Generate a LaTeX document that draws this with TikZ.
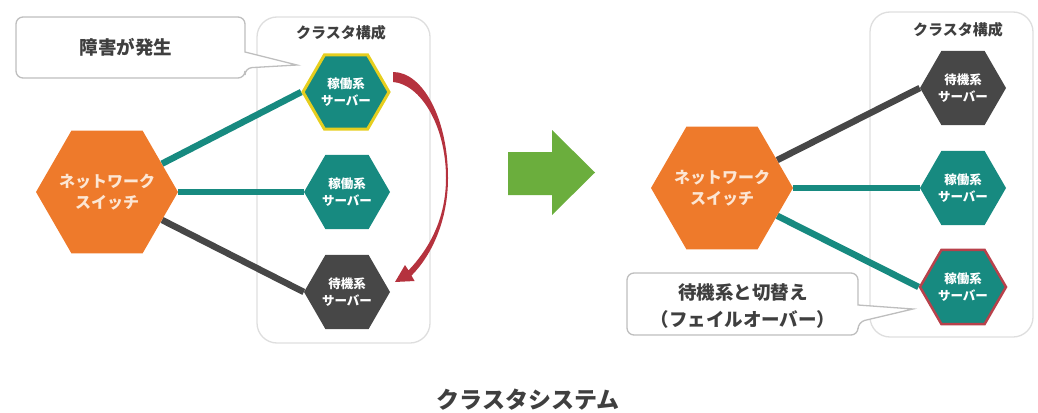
\documentclass[tikz,border=0pt]{standalone}
\usepackage{fontspec}
\setmainfont{Noto Sans CJK JP}
\usetikzlibrary{shapes.geometric,backgrounds}
\definecolor{orng}{HTML}{EE7A2B}
\definecolor{tealc}{HTML}{178A80}
\definecolor{darkc}{HTML}{474747}
\definecolor{yel}{HTML}{E6CE1E}
\definecolor{redb}{HTML}{B8414B}
\definecolor{arcred}{HTML}{B5323E}
\definecolor{grn}{HTML}{6BAE3D}
\definecolor{boxgray}{HTML}{DEDEDE}
\definecolor{callgray}{HTML}{BEBEBE}
\definecolor{txt}{HTML}{3F3F3F}
\definecolor{cream}{HTML}{FCE6D4}
\begin{document}
\begin{tikzpicture}[x=1pt,y=-1pt,
  hexbig/.style={regular polygon, regular polygon sides=6, minimum size=142pt, inner sep=0pt,
    fill=orng},
  swtext/.style={text=cream, font=\bfseries\fontsize{16}{21}\selectfont, align=center, inner sep=0pt},
  srv/.style={regular polygon, regular polygon sides=6, minimum size=86pt, inner sep=0pt},
  srvtext/.style={text=white, font=\bfseries\fontsize{12.5}{17}\selectfont, align=center, inner sep=0pt},
  active/.style={srv, fill=tealc},
  standby/.style={srv, fill=darkc},
  cluster/.style={draw=boxgray, line width=1.3pt, rounded corners=20pt},
  clabel/.style={text=txt, font=\bfseries\fontsize{15}{18}\selectfont},
  callout/.style={draw=callgray, line width=1.3pt, fill=white},
  calltext/.style={text=txt, font=\bfseries\fontsize{18.5}{27}\selectfont, align=center},
  tline/.style={draw=tealc, line width=6.5pt},
  dline/.style={draw=darkc, line width=6.5pt}
]
\useasboundingbox (0,0) rectangle (1038,412);

% ---------- left side ----------
\node[hexbig] (swL) at (107,192) {};
\node[swtext] (swLt) at (swL) {ネットワーク\\スイッチ};
\node[active, draw=yel, line width=3pt] (a1) at (346,92) {};
\node[srvtext] (a1t) at (a1) {稼働系\\サーバー};
\node[active] (a2) at (347,192) {};
\node[srvtext] (a2t) at (a2) {稼働系\\サーバー};
\node[standby] (b1) at (347,292) {};
\node[srvtext] (b1t) at (b1) {待機系\\サーバー};
\node[clabel] (clL) at (341,33) {クラスタ構成};

\begin{scope}[on background layer]
  \draw[cluster] (257,17) rectangle (430,343);
  \draw[tline] (swL) -- (a1.west);
  \draw[tline] (swL.east |- a2) -- (a2.west);
  \draw[dline] (swL) -- (b1.west);
\end{scope}

% callout 1
\draw[callout, rounded corners=7pt] (245,52) -- (245,17) -- (16,17) -- (16,78) -- (245,78) -- (245,68) [sharp corners] -- (297,65) -- cycle;
\node[calltext] (c1) at (126,47) {障害が発生};

% red curved arrow (failover)
\fill[arcred] (393,72) .. controls (423,72) and (448,119) .. (448,178)
  .. controls (448,220) and (432,255) .. (411.5,275.6)
  -- (414.6,281) -- (395,282) -- (405,265) -- (408.5,270.4)
  .. controls (428,250) and (446,220) .. (446,178)
  .. controls (446,125) and (420,84) .. (393,82) -- cycle;

% ---------- middle arrow ----------
\fill[grn] (508,152) -- (552,152) -- (552,130) -- (595,172.5) -- (552,215) -- (552,195) -- (508,195) -- cycle;

% ---------- right side ----------
\node[hexbig] (swR) at (722,188) {};
\node[swtext] (swRt) at (swR) {ネットワーク\\スイッチ};
\node[standby] (b2) at (963,88) {};
\node[srvtext] (b2t) at (b2) {待機系\\サーバー};
\node[active] (a3) at (963,188) {};
\node[srvtext] (a3t) at (a3) {稼働系\\サーバー};
\node[active, draw=redb, line width=2.5pt] (a4) at (963,287) {};
\node[srvtext] (a4t) at (a4) {稼働系\\サーバー};
\node[clabel] (clR) at (958,30) {クラスタ構成};

\begin{scope}[on background layer]
  \draw[cluster] (870,12) rectangle (1033,337);
  \draw[dline] (swR) -- (b2.west);
  \draw[tline] (swR.east |- a3) -- (a3.west);
  \draw[tline] (swR) -- (a4.west);
\end{scope}

% callout 2
\draw[callout, rounded corners=7pt] (858,305) -- (858,273) -- (627,273) -- (627,335) -- (858,335) -- (858,322) [sharp corners] -- (913,309) -- cycle;
\node[calltext] (c2) at (743,306) {待機系と切替え\\（フェイルオーバー）};

% title
\node[text=txt, font=\bfseries\fontsize{23}{26}\selectfont] (title) at (528,400) {クラスタシステム};
\end{tikzpicture}
\end{document}
